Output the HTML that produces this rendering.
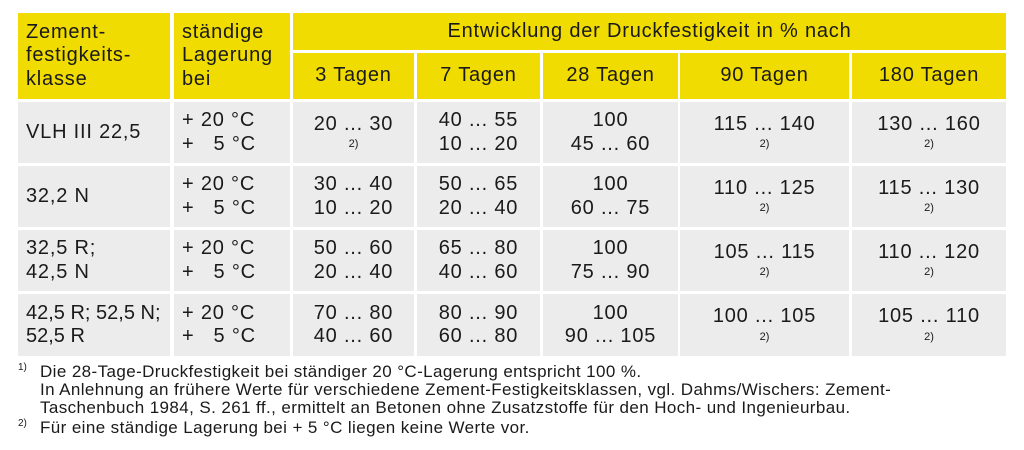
<!DOCTYPE html>
<html><head><meta charset="utf-8"><style>
body{margin:0;width:1024px;height:450px;background:#fff;font-family:"Liberation Sans",sans-serif;color:#1a1a1a;position:relative;overflow:hidden}
.c{position:absolute;display:flex;flex-direction:column;justify-content:center;font-size:20px;line-height:23.5px;box-sizing:border-box;letter-spacing:0.8px}
.y{background:#f0dc00}
.g{background:#ececec}
.l{padding-left:8px;align-items:flex-start}
.m{align-items:center;text-align:center}
.s{font-size:11px;line-height:16px;letter-spacing:0}
.f{position:absolute;left:18px;font-size:17px;line-height:18px;letter-spacing:0.4px}
.f sup{font-size:10px;position:absolute;left:0;top:-4px;letter-spacing:0}
</style></head><body>
<div class="c y l" style="left:18px;top:13px;width:152px;height:86px">Zement-<br>festigkeits-<br>klasse</div>
<div class="c y l" style="left:174px;top:13px;width:116px;height:86px">ständige<br>Lagerung<br>bei</div>
<div class="c y m" style="left:293px;top:13px;width:713px;height:37px">Entwicklung der Druckfestigkeit in % nach</div>
<div class="c y m" style="left:293px;top:53px;width:121px;height:46px">3 Tagen</div>
<div class="c y m" style="left:417px;top:53px;width:123px;height:46px">7 Tagen</div>
<div class="c y m" style="left:543px;top:53px;width:135px;height:46px">28 Tagen</div>
<div class="c y m" style="left:680px;top:53px;width:169px;height:46px">90 Tagen</div>
<div class="c y m" style="left:852px;top:53px;width:154px;height:46px">180 Tagen</div>

<div class="c g l" style="left:18px;top:102px;width:152px;height:61px">VLH III 22,5</div>
<div class="c g l" style="left:174px;top:102px;width:116px;height:61px">+ 20 °C<br>+&nbsp;&nbsp;&nbsp;5 °C</div>
<div class="c g m" style="left:293px;top:102px;width:121px;height:61px"><span>20 ... 30</span><span class="s">2)</span></div>
<div class="c g m" style="left:417px;top:102px;width:123px;height:61px">40 ... 55<br>10 ... 20</div>
<div class="c g m" style="left:543px;top:102px;width:135px;height:61px">100<br>45 ... 60</div>
<div class="c g m" style="left:680px;top:102px;width:169px;height:61px"><span>115 ... 140</span><span class="s">2)</span></div>
<div class="c g m" style="left:852px;top:102px;width:154px;height:61px"><span>130 ... 160</span><span class="s">2)</span></div>

<div class="c g l" style="left:18px;top:166px;width:152px;height:61px">32,2 N</div>
<div class="c g l" style="left:174px;top:166px;width:116px;height:61px">+ 20 °C<br>+&nbsp;&nbsp;&nbsp;5 °C</div>
<div class="c g m" style="left:293px;top:166px;width:121px;height:61px">30 ... 40<br>10 ... 20</div>
<div class="c g m" style="left:417px;top:166px;width:123px;height:61px">50 ... 65<br>20 ... 40</div>
<div class="c g m" style="left:543px;top:166px;width:135px;height:61px">100<br>60 ... 75</div>
<div class="c g m" style="left:680px;top:166px;width:169px;height:61px"><span>110 ... 125</span><span class="s">2)</span></div>
<div class="c g m" style="left:852px;top:166px;width:154px;height:61px"><span>115 ... 130</span><span class="s">2)</span></div>

<div class="c g l" style="left:18px;top:230px;width:152px;height:61px">32,5 R;<br>42,5 N</div>
<div class="c g l" style="left:174px;top:230px;width:116px;height:61px">+ 20 °C<br>+&nbsp;&nbsp;&nbsp;5 °C</div>
<div class="c g m" style="left:293px;top:230px;width:121px;height:61px">50 ... 60<br>20 ... 40</div>
<div class="c g m" style="left:417px;top:230px;width:123px;height:61px">65 ... 80<br>40 ... 60</div>
<div class="c g m" style="left:543px;top:230px;width:135px;height:61px">100<br>75 ... 90</div>
<div class="c g m" style="left:680px;top:230px;width:169px;height:61px"><span>105 ... 115</span><span class="s">2)</span></div>
<div class="c g m" style="left:852px;top:230px;width:154px;height:61px"><span>110 ... 120</span><span class="s">2)</span></div>

<div class="c g l" style="left:18px;top:294px;width:152px;height:62px;letter-spacing:0">42,5 R; 52,5 N;<br>52,5 R</div>
<div class="c g l" style="left:174px;top:294px;width:116px;height:62px">+ 20 °C<br>+&nbsp;&nbsp;&nbsp;5 °C</div>
<div class="c g m" style="left:293px;top:294px;width:121px;height:62px">70 ... 80<br>40 ... 60</div>
<div class="c g m" style="left:417px;top:294px;width:123px;height:62px">80 ... 90<br>60 ... 80</div>
<div class="c g m" style="left:543px;top:294px;width:135px;height:62px">100<br>90 ... 105</div>
<div class="c g m" style="left:680px;top:294px;width:169px;height:62px"><span>100 ... 105</span><span class="s">2)</span></div>
<div class="c g m" style="left:852px;top:294px;width:154px;height:62px"><span>105 ... 110</span><span class="s">2)</span></div>

<div class="f" style="top:363px;padding-left:22px"><sup>1)</sup>Die 28-Tage-Druckfestigkeit bei ständiger 20 °C-Lagerung entspricht 100 %.<br>In Anlehnung an frühere Werte für verschiedene Zement-Festigkeitsklassen, vgl. Dahms/Wischers: Zement-<br>Taschenbuch 1984, S. 261 ff., ermittelt an Betonen ohne Zusatzstoffe für den Hoch- und Ingenieurbau.</div>
<div class="f" style="top:419px;padding-left:22px"><sup>2)</sup>Für eine ständige Lagerung bei + 5 °C liegen keine Werte vor.</div>
</body></html>
